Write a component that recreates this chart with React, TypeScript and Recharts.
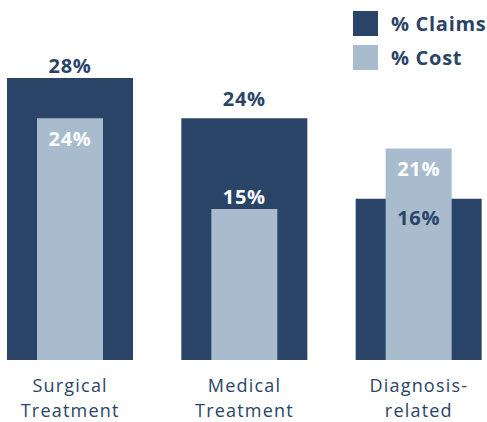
import { BarChart, Bar, XAxis, YAxis, LabelList } from "recharts";

const CATEGORIES = ["Surgical Treatment", "Medical Treatment", "Diagnosis-related"];
const CLAIMS = [28, 24, 16];
const COST = [24, 15, 21];
const SERIES = ["% Claims", "% Cost"];

const NAVY = "#2a4467";
const LIGHT = "#a8bccd";
const FONT = "'Open Sans', sans-serif";

const data = CATEGORIES.map((name, i) => ({ name, claims: CLAIMS[i], cost: COST[i] }));

// two-line category labels, break after hyphen or at space
const CategoryTick = ({ x, y, payload }: any) => {
  const lines = String(payload.value).split(/(?<=-)|\s/);
  return (
    <text x={x} y={y + 25} textAnchor="middle" dominantBaseline="central"
      fill={NAVY} fontSize={18} fontWeight={500} fontFamily={FONT} letterSpacing={1.2}>
      {lines.map((l, i) => (
        <tspan key={i} x={x} dy={i === 0 ? 0 : 25}>{l}</tspan>
      ))}
    </text>
  );
};

// claims label sits above the bar, unless the cost bar is taller: then just inside
const claimsLabel = (props: any) => {
  const { x, y, width, index } = props;
  const inside = COST[index] > CLAIMS[index];
  const gap = CLAIMS[index] - COST[index] > 5 ? 20 : 13;
  return (
    <text x={x + width / 2} y={inside ? y + 19 : y - gap} textAnchor="middle" dominantBaseline="central"
      fill={NAVY} fontSize={20} fontWeight={700} fontFamily={FONT} letterSpacing={0.7}>
      {`${CLAIMS[index]}%`}
    </text>
  );
};

// cost label inside top, or above when far below the claims bar
const costLabel = (props: any) => {
  const { x, y, width, index } = props;
  const above = CLAIMS[index] - COST[index] > 5;
  return (
    <text x={x + width / 2} y={above ? y - 12 : y + 20} textAnchor="middle" dominantBaseline="central"
      fill="#ffffff" fontSize={20} fontWeight={700} fontFamily={FONT} letterSpacing={0.7}>
      {`${COST[index]}%`}
    </text>
  );
};

const LegendBox = () => (
  <div style={{ position: "absolute", left: 353, top: 11, fontFamily: FONT }}>
    {SERIES.map((label, i) => (
      <div key={label} style={{ display: "flex", alignItems: "center", height: 25, marginBottom: 9 }}>
        <div style={{ width: 25, height: 25, background: i === 0 ? NAVY : LIGHT, marginRight: 13 }} />
        <span style={{ color: NAVY, fontSize: 20, fontWeight: 700, letterSpacing: 0.7, whiteSpace: "nowrap" }}>
          {label}
        </span>
      </div>
    ))}
  </div>
);

export default function App() {
  return (
    <div style={{ position: "absolute", left: 0, top: 0, width: 487, height: 422, overflow: "hidden", background: "#fff" }}>
      <BarChart width={487} height={422} data={data}
        margin={{ top: 78, right: -19, bottom: 32, left: -17 }} barGap={0}>
        <XAxis xAxisId="claims" dataKey="name" axisLine={false} tickLine={false} height={30}
          tickSize={0} tickMargin={0} interval={0} tick={<CategoryTick />} />
        <XAxis xAxisId="cost" dataKey="name" hide />
        <YAxis domain={[0, 28]} hide />
        <Bar xAxisId="claims" dataKey="claims" fill={NAVY} barSize={126} isAnimationActive={false}>
          <LabelList dataKey="claims" content={claimsLabel} />
        </Bar>
        <Bar xAxisId="cost" dataKey="cost" fill={LIGHT} barSize={66} isAnimationActive={false}>
          <LabelList dataKey="cost" content={costLabel} />
        </Bar>
      </BarChart>
      <LegendBox />
    </div>
  );
}
